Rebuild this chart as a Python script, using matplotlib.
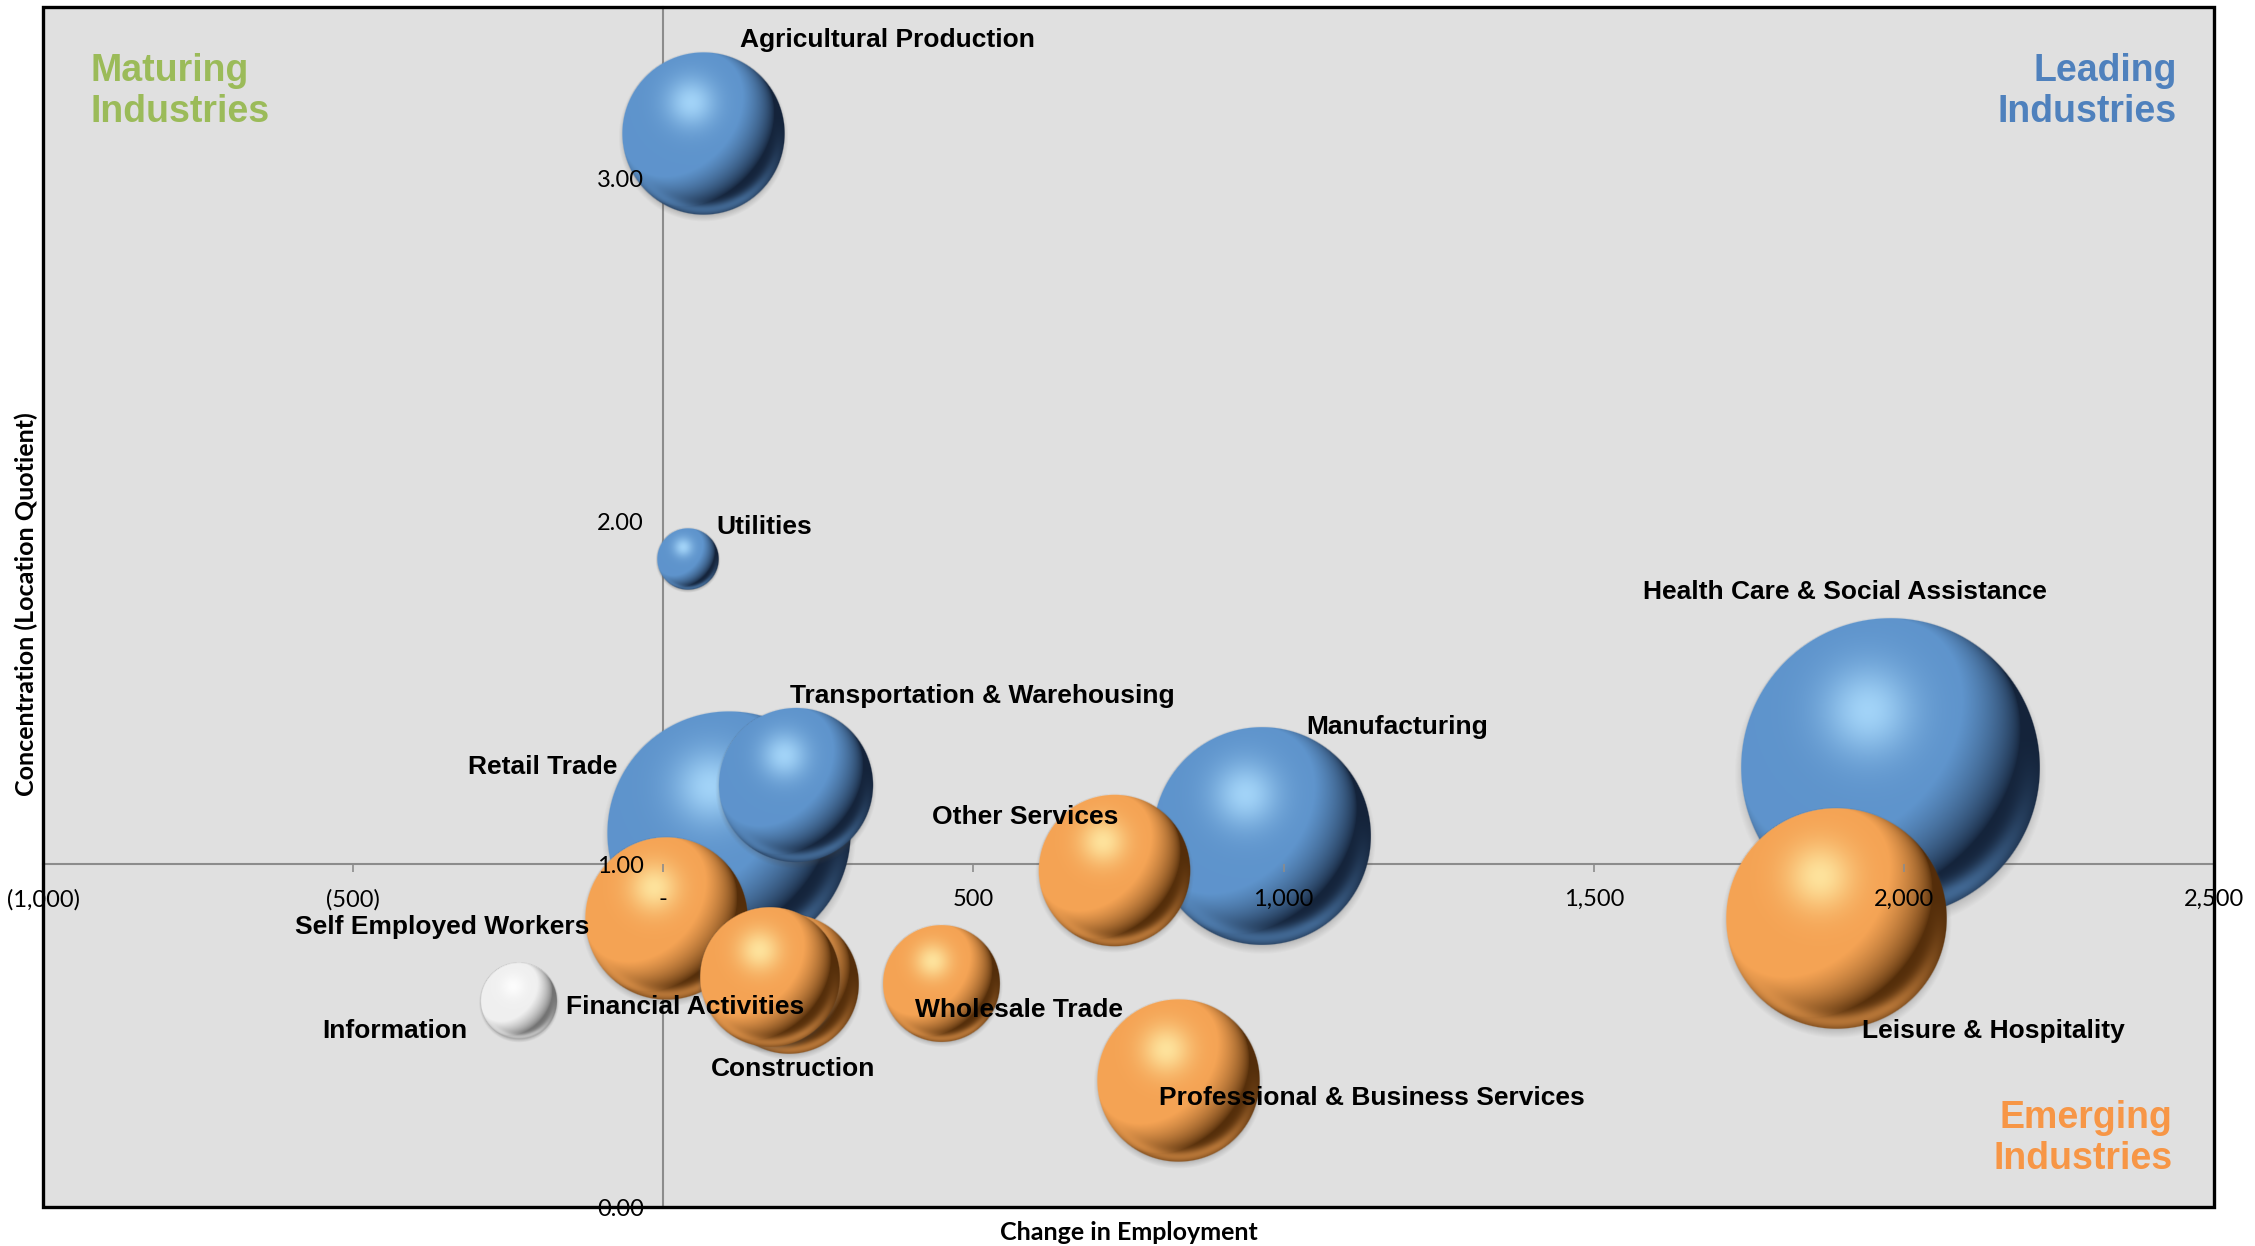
import numpy as np
import matplotlib
matplotlib.use('Agg')
import matplotlib.pyplot as plt
from matplotlib.patches import Rectangle

# industry data (change in employment, location quotient, bubble size)
industries = ['Agricultural Production', 'Utilities', 'Retail Trade',
              'Transportation & Warehousing', 'Manufacturing',
              'Health Care & Social Assistance', 'Information',
              'Self Employed Workers', 'Construction', 'Financial Activities',
              'Wholesale Trade', 'Other Services',
              'Professional & Business Services', 'Leisure & Hospitality']
change = [65, 40, 105, 214, 965, 1977, -233, 5, 202, 172, 447, 726, 830, 1891]
lq = [3.13, 1.89, 1.09, 1.23, 1.08, 1.28, 0.60, 0.84, 0.65, 0.67, 0.65, 0.98, 0.37, 0.84]
bubble_size = [1625, 242, 3610, 1460, 2890, 5410, 365, 1625, 1200, 1200, 840, 1405, 1625, 2965]
group = ['leading'] * 6 + ['other'] + ['emerging'] * 7

x_ticks = [-1000, -500, 0, 500, 1000, 1500, 2000, 2500]
x_tick_labels = ['(1,000)', '(500)', '-', '500', '1,000', '1,500', '2,000', '2,500']
y_ticks = [0, 1, 2, 3]
y_tick_labels = ['0.00', '1.00', '2.00', '3.00']

# label offsets from bubble centre, pixels
label_offsets = {
    'Agricultural Production': (184, 94),
    'Utilities': (76, 32),
    'Retail Trade': (-186, 66),
    'Transportation & Warehousing': (186, 89),
    'Manufacturing': (135, 110),
    'Health Care & Social Assistance': (-45, 176),
    'Information': (-124, -30),
    'Self Employed Workers': (-224, -8),
    'Construction': (4, -85),
    'Financial Activities': (-85, -30),
    'Wholesale Trade': (78, -26),
    'Other Services': (-88, 54),
    'Professional & Business Services': (194, -18),
    'Leisure & Hospitality': (157, -112),
}

palette = {
    'leading': dict(base=(0.37, 0.58, 0.80), dark=(0.08, 0.14, 0.23), light=(0.68, 0.87, 1.0)),
    'emerging': dict(base=(0.96, 0.64, 0.33), dark=(0.33, 0.18, 0.04), light=(1.0, 0.93, 0.66)),
    'other': dict(base=(0.94, 0.94, 0.94), dark=(0.45, 0.45, 0.45), light=(1.0, 1.0, 1.0)),
}

PAD = 1.1


def bubble_rgba(n, base, dark, light):
    base, dark, light = np.array(base), np.array(dark), np.array(light)
    t = np.linspace(-PAD, PAD, n)
    u, v = np.meshgrid(t, t)  # v grows downwards
    d = np.sqrt(u ** 2 + v ** 2)
    z = np.sqrt(np.clip(1 - d ** 2, 0, 1))
    L = np.array([-0.5, 0.45, 0.75])
    L = L / np.linalg.norm(L)
    diff = np.clip(u * L[0] - v * L[1] + z * L[2], 0, 1)
    s = np.clip(diff * 1.9, 0, 1) ** 0.75
    rgb = dark + (base - dark) * s[..., None]
    h = 0.85 * np.exp(-((u + 0.15) ** 2 + (v + 0.38) ** 2) / 0.09)
    rgb = rgb * (1 - h[..., None]) + light * h[..., None]
    r = np.clip(v + 0.2, 0, 1) ** 1.5 * np.exp(-((d - 0.93) / 0.08) ** 2) * 0.6
    rgb = rgb * (1 - r[..., None]) + base * r[..., None]
    edge = 2 * PAD / n * 1.2
    a_disk = np.clip((1 - d) / edge, 0, 1)
    ds = np.sqrt(u ** 2 + (v - 0.04) ** 2)
    a_sh = 0.25 * np.clip((1.04 - ds) / 0.08, 0, 1)
    out_a = a_disk + a_sh * (1 - a_disk)
    sh = np.array([0.3, 0.3, 0.3])
    out_rgb = (rgb * a_disk[..., None] + sh * (a_sh * (1 - a_disk))[..., None]) / np.maximum(out_a, 1e-6)[..., None]
    return np.dstack([np.clip(out_rgb, 0, 1), out_a])


fig = plt.figure(figsize=(22.55, 12.46), dpi=100)
ax = fig.add_axes([0.0191, 0.0313, 0.9627, 0.9631])
ax.set_facecolor('#E0E0E0')
ax.set_xlim(-1000, 2500)
ax.set_ylim(0, 3.5)

ax.spines['left'].set_position(('data', 0))
ax.spines['bottom'].set_position(('data', 1))
for side in ['top', 'right']:
    ax.spines[side].set_visible(False)
for side in ['left', 'bottom']:
    ax.spines[side].set_color('#8C8C8C')
    ax.spines[side].set_linewidth(1.5)
    ax.spines[side].set_zorder(1)
ax.add_patch(Rectangle((0, 0), 1, 1, transform=ax.transAxes, fill=False,
                       ec='black', lw=2.4, clip_on=False, zorder=10))

ax.set_xticks(x_ticks, x_tick_labels)
ax.set_yticks(y_ticks, y_tick_labels)
ax.tick_params(axis='x', direction='out', length=6, width=1.2, color='#8C8C8C', pad=12,
               labelsize=17)
ax.tick_params(axis='y', length=0, pad=14, labelsize=17)
for lab in ax.get_xticklabels() + ax.get_yticklabels():
    lab.set_fontfamily('Lato')
ax.xaxis.set_zorder(5)
ax.yaxis.set_zorder(5)

# bubble radii: largest bubble diameter = 25% of plot height (Excel default)
fig.canvas.draw()
plot_h = ax.get_window_extent().height
r_max = 0.125 * plot_h
smax = max(bubble_size)
inv = ax.transData.inverted()

# draw blue first, then white, then orange so overlaps match
order = [i for g in ['leading', 'other', 'emerging'] for i in range(len(industries)) if group[i] == g]
for k, i in enumerate(order):
    R = r_max * np.sqrt(bubble_size[i] / smax)
    cx, cy = ax.transData.transform((change[i], lq[i]))
    (x0, y0), (x1, y1) = inv.transform([(cx - PAD * R, cy - PAD * R), (cx + PAD * R, cy + PAD * R)])
    n = int(2 * PAD * R) + 2
    img = bubble_rgba(n, **palette[group[i]])
    ax.imshow(img, extent=[x0, x1, y0, y1], origin='upper', aspect='auto',
              interpolation='bilinear', zorder=3 + k * 0.01)

ax.set_xlim(-1000, 2500)
ax.set_ylim(0, 3.5)

for i, name in enumerate(industries):
    ax.annotate(name, (change[i], lq[i]), xytext=label_offsets[name],
                textcoords='offset pixels', ha='center', va='center',
                fontsize=19, fontweight='bold', family='Liberation Sans',
                color='black', zorder=6)

quad_font = dict(fontsize=27, fontweight='bold', family='Liberation Sans', linespacing=1.18)
ax.text(0.022, 0.962, 'Maturing\nIndustries', transform=ax.transAxes, ha='left', va='top',
        color='#9BBB59', zorder=6, **quad_font)
ax.text(0.983, 0.962, 'Leading\nIndustries', transform=ax.transAxes, ha='right', va='top',
        multialignment='right', color='#4F81BD', zorder=6, **quad_font)
ax.text(0.981, 0.025, 'Emerging\nIndustries', transform=ax.transAxes, ha='right', va='bottom',
        multialignment='right', color='#F79646', zorder=6, **quad_font)

fig.text(1129 / 2255, 1 - 1233 / 1246, 'Change in Employment', ha='center', va='center',
         fontsize=18, fontweight='bold', family='Lato')
fig.text(26 / 2255, 1 - 604 / 1246, 'Concentration (Location Quotient)', ha='center', va='center',
         rotation=90, fontsize=18, fontweight='bold', family='Lato')

fig.savefig('out.png', dpi=100)
